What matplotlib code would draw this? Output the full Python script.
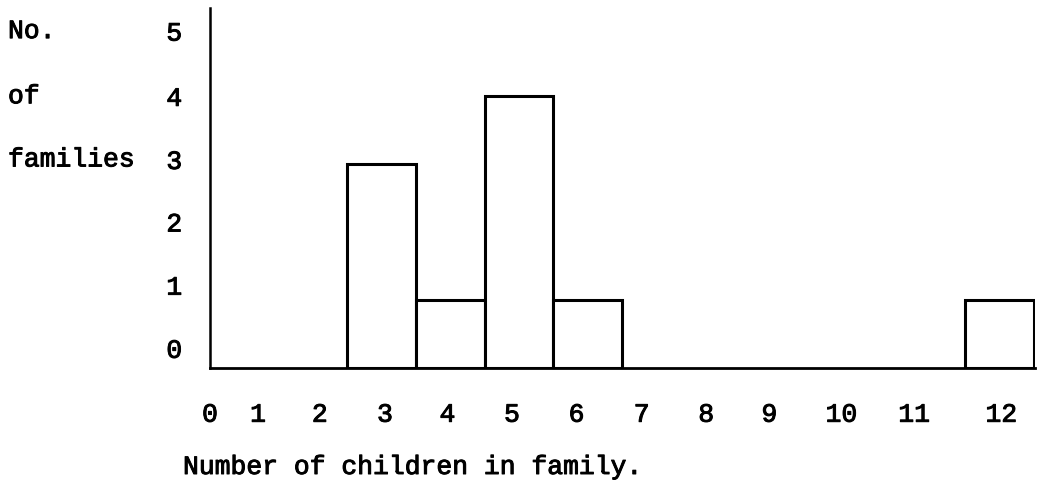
import matplotlib
matplotlib.use('Agg')
import matplotlib.pyplot as plt
import matplotlib.patheffects as pe
from matplotlib.transforms import blended_transform_factory

# number of children in a family and how many families had that many
children = [3, 4, 5, 6, 12]
families = [3, 1, 4, 1, 1]

x_labels = ['0', '1', '2', '3', '4', '5', '6', '7', '8', '9', '10', '11', '12']
y_labels = ['0', '1', '2', '3', '4', '5']
side_words = ['No.', 'of', 'families']

# the hand-typed labels do not sit on an even grid
x_label_pos = [0.5, 1.2, 2.1, 3.05, 3.96, 4.9, 5.84, 6.79, 7.73, 8.65, 9.7, 10.76, 12.03]
y_label_pos = [0.29, 1.22, 2.15, 3.07, 4.0, 4.96]

plt.rcParams['font.family'] = ['Liberation Mono', 'DejaVu Sans Mono']
fsize = 19
# typewriter ink is a bit heavier than the regular face
ink = [pe.withStroke(linewidth=0.7, foreground='black')]

fig = plt.figure(figsize=(10.37, 4.9), dpi=100, facecolor='white')
ax = fig.add_axes([210 / 1037., 122 / 490., 825 / 1037., 360 / 490.])

ax.bar(children, families, width=1.0, align='center',
       facecolor='white', edgecolor='black', linewidth=2.2)

ax.set_xlim(0.5, 12.52)
ax.set_ylim(0, 5.3)

for side in ['top', 'right']:
    ax.spines[side].set_visible(False)
ax.spines['left'].set_linewidth(1.8)
ax.spines['bottom'].set_linewidth(2.0)

ax.set_xticks(x_label_pos)
ax.set_xticklabels(x_labels, fontsize=fsize, path_effects=ink)
ax.set_yticks(y_label_pos)
ax.set_yticklabels(y_labels, fontsize=fsize, path_effects=ink)
ax.tick_params(axis='both', length=0)
ax.tick_params(axis='x', pad=25)
ax.tick_params(axis='y', pad=20)

# words down the left side, level with the top three y labels
side_tr = blended_transform_factory(fig.transFigure, ax.transData)
for word, ypos in zip(side_words, y_label_pos[::-1][:3]):
    ax.text(8 / 1037., ypos, word, fontsize=fsize, ha='left', va='center',
            transform=side_tr, path_effects=ink)

fig.text(183 / 1037., 1 - 467 / 490., 'Number of children in family.',
         fontsize=fsize, ha='left', va='center', path_effects=ink)

fig.savefig('out.png', dpi=100, facecolor='white')
